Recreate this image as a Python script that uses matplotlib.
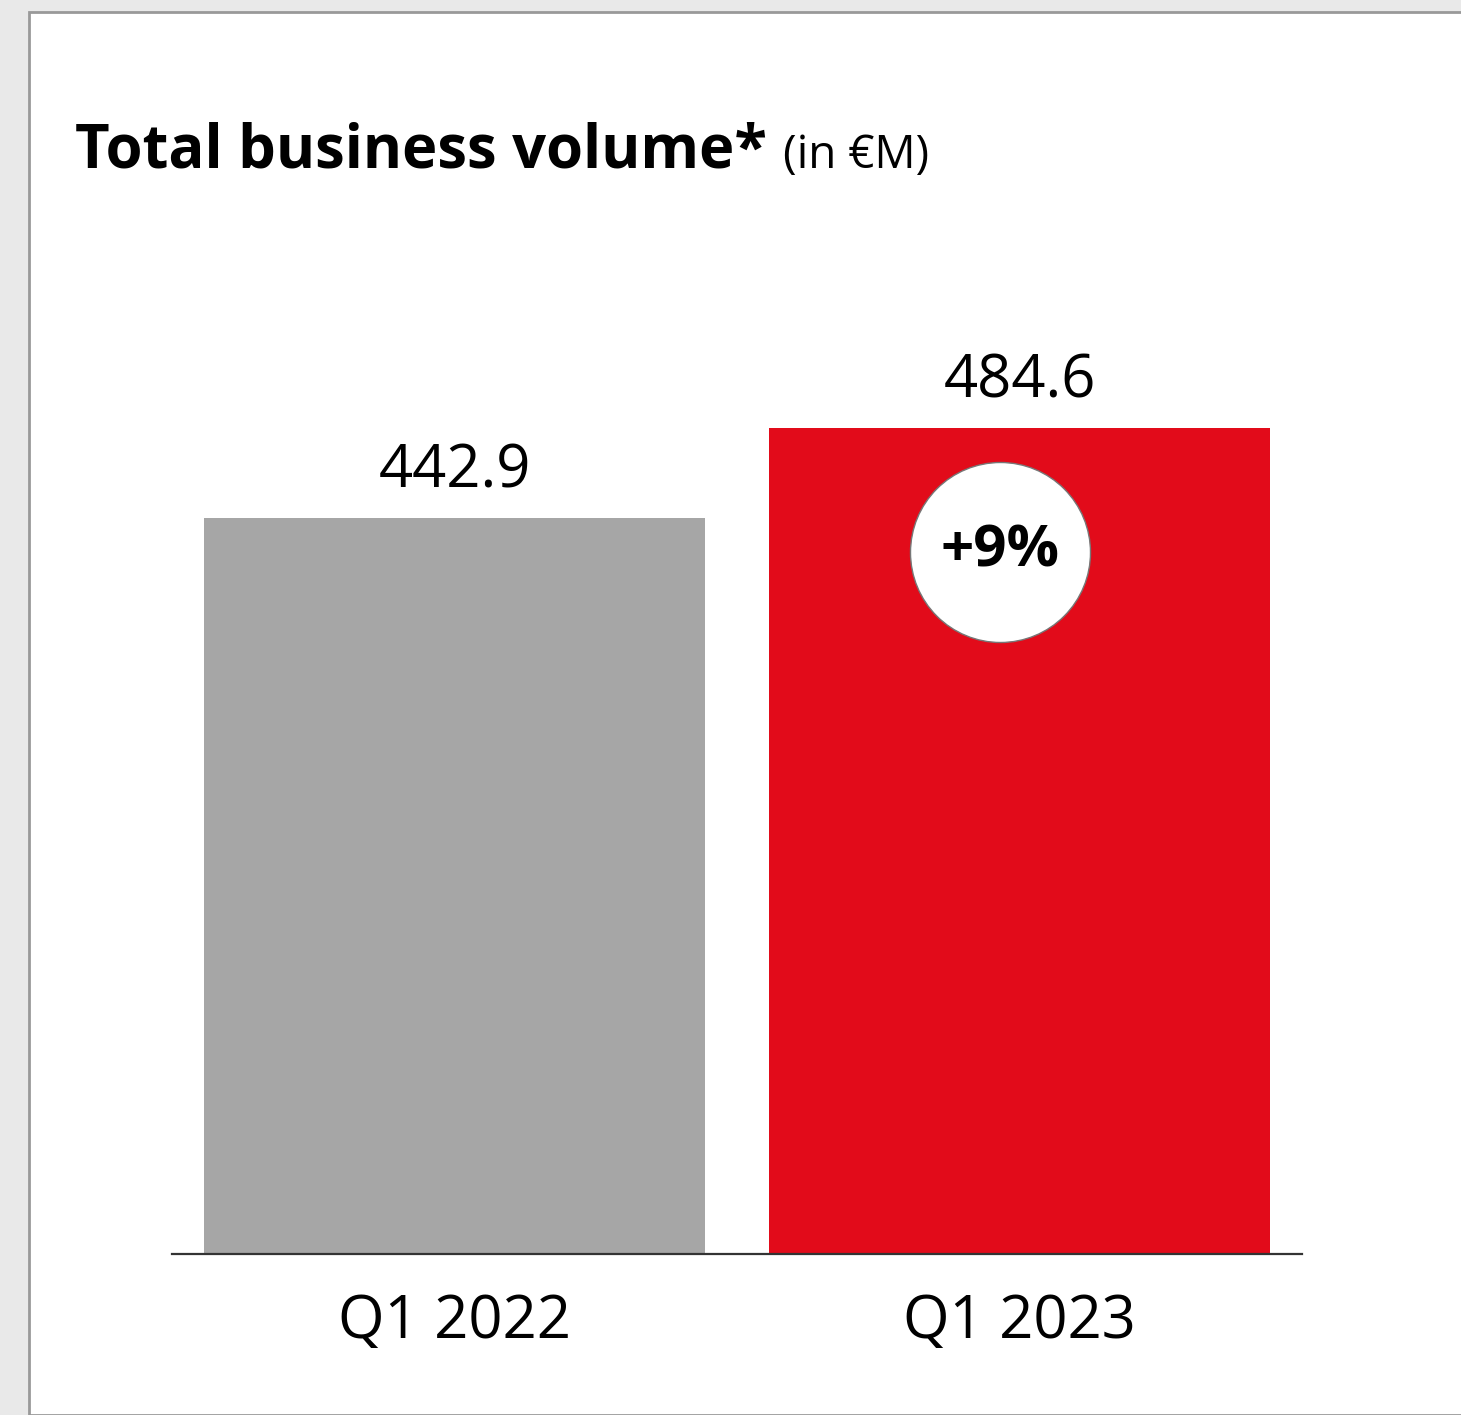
#!/usr/bin/env python3
"""Bar chart of total business volume, Q1 2022 vs Q1 2023."""

import matplotlib

matplotlib.use("Agg")
import matplotlib.pyplot as plt
from matplotlib.patches import Rectangle

plt.rcParams["font.family"] = ["Open Sans", "DejaVu Sans"]

QUARTERS = ["Q1 2022", "Q1 2023"]
VOLUMES = [442.9, 484.6]
BAR_COLORS = ["#a6a6a6", "#e20b1a"]
GROWTH_LABEL = "+9%"

W, H = 1461, 1415
fig = plt.figure(figsize=(W / 100, H / 100), dpi=100, facecolor="#e9e9e9")

# white card with a thin grey frame
card = Rectangle((29 / W, 0), 1 - 29 / W + 0.01, (H - 12) / H,
                 transform=fig.transFigure, facecolor="white",
                 edgecolor="#999999", linewidth=2, zorder=-5)
fig.patches.append(card)

ax = fig.add_axes([172 / W, 161 / H, 1130 / W, 1054 / H], zorder=2)
ax.set_facecolor("none")
x = list(range(len(QUARTERS)))
bars = ax.bar(x, VOLUMES, width=0.885, bottom=0, color=BAR_COLORS, zorder=2)
ax.set_xlim(-0.5, 1.5)
ax.set_ylim(100, 591)

for side in ("top", "right", "left"):
    ax.spines[side].set_visible(False)
ax.spines["bottom"].set_color("#333333")
ax.spines["bottom"].set_linewidth(1.6)
ax.spines["bottom"].set_zorder(3)
ax.set_yticks([])
ax.set_xticks(x)
ax.set_xticklabels(QUARTERS, fontsize=43)
ax.tick_params(axis="x", length=0, pad=27)

for xi, value in zip(x, VOLUMES):
    ax.annotate(f"{value:.1f}", xy=(xi, value), xytext=(0, 22),
                textcoords="offset points", ha="center", va="baseline",
                fontsize=43)

# growth badge on the 2023 bar
badge_x, badge_y = x[1] - 0.034, VOLUMES[1] - 57.5
ax.scatter([badge_x], [badge_y], s=129.6 ** 2, color="white",
           edgecolor="#777777", linewidth=1.0, zorder=4)
ax.text(badge_x, badge_y, GROWTH_LABEL, ha="center", va="center",
        fontsize=42, fontweight="bold", zorder=5)

title = fig.text(75 / W, 1 - 168 / H, "Total business volume*", fontsize=43,
                 fontweight="bold", ha="left", va="baseline")
fig.canvas.draw()
bb = title.get_window_extent()
fig.text((bb.x1 + 16) / W, 1 - 168 / H, "(in €M)", fontsize=33,
         ha="left", va="baseline")

fig.savefig("out.png", dpi=100, facecolor=fig.get_facecolor())
